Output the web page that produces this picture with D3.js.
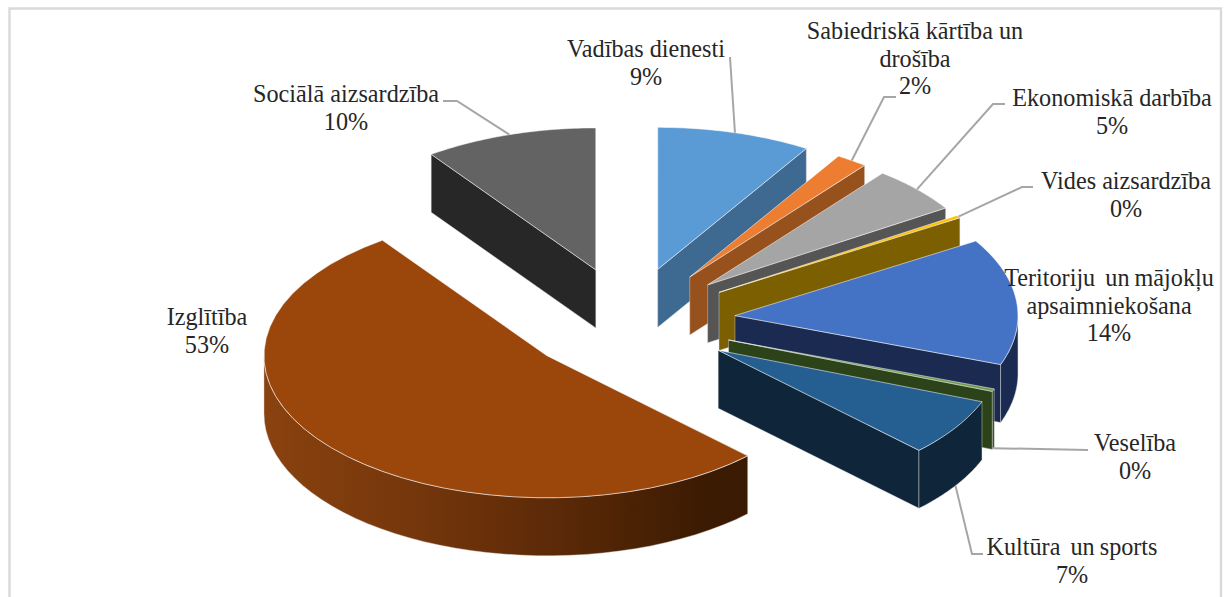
<!DOCTYPE html>
<html>
<head>
<meta charset="utf-8">
<script src="https://cdn.jsdelivr.net/npm/d3@7"></script>
<style>
html,body{margin:0;padding:0;background:#fff;overflow:hidden}
svg{display:block}
text{font-family:"Liberation Serif","Times New Roman",serif;font-size:24.2px;fill:#262626;white-space:pre;text-anchor:middle}
</style>
</head>
<body>
<svg id="chart" width="1226" height="597"></svg>
<script>
// ---- data ----
const categories = ["Vadības dienesti","Sabiedriskā kārtība un\ndrošība","Ekonomiskā darbība","Vides aizsardzība","Teritoriju  un mājokļu\napsaimniekošana","Veselība","Kultūra  un sports","Izglītība","Sociālā aizsardzība"];
const shares = [8.8,1.8,5.3,0.3,14.4,0.3,6.55,52.67,9.88];
const topColors = ["#5b9bd5","#ed7d31","#a5a5a5","#ffc000","#4472c4","#6f9a4a","#255e91","#9b470c","#636363"];
const wallColors = ["#3e6a92","#97511c","#555555","#7c5f00","#1a2a50","#2c4219","#0f253a","url(#wallGrad)","#272727"];
// ---- layout ----
const center = {x:628.5,y:321}, rx = 283, ry = 142, depth = 58, explode = 107;
const labelCenters = [[646,57],[915,39],[1112,106],[1126,189],[1109,286],[1135,451],[1072,555],[207,325],[346,102]];
const leaderBends = [[[730,57]],[[884,97],[896,97]],[[993,104],[1005,104]],[[1022,187],[1033,187]],null,[[1088,450]],[[972,554],[983,554]],null,[[457,101],[443,101]]];

const svg = d3.select("#chart");
const sx = d3.scaleLinear().domain([-1,1]).range([center.x-rx,center.x+rx]);
const sy = d3.scaleLinear().domain([-1,1]).range([center.y-ry,center.y+ry]);
const pct = d3.format(".0%");
const line = d3.line();

const grad = svg.append("defs").append("linearGradient").attr("id","wallGrad")
  .attr("gradientUnits","userSpaceOnUse").attr("x1",264).attr("x2",749).attr("y1",0).attr("y2",0);
[[0,"#8a420f"],[0.35,"#72350b"],[0.7,"#522506"],[0.9,"#3c1b02"],[1,"#3a1a02"]].forEach(([o,c])=>grad.append("stop").attr("offset",o).attr("stop-color",c));

// Frame (no bottom edge is visible in the reference)
svg.append("path").attr("d","M9.5,597V8.5H1221V597").attr("fill","none").attr("stroke","#d9d9d9").attr("stroke-width",2.4);

const pie = d3.pie().sort(null).value(d=>d);
const arcs = pie(shares);

arcs.forEach((a,i)=>{
  const mid = (a.startAngle+a.endAngle)/2;
  const apexOffset = explode/rx;
  const ax = Math.sin(mid)*apexOffset, ay = -Math.cos(mid)*apexOffset;
  a.apex = [sx(ax),sy(ay)];
  a.rim = t => [sx(ax+Math.sin(t)),sy(ay-Math.cos(t))];
  a.mid = mid;
  a.sample = (t0,t1) => d3.range(0,41).map(k=>a.rim(t0+(t1-t0)*k/40));
});

const g = svg.append("g");
const down = p => [p[0],p[1]+depth];
arcs.forEach((a,i)=>{
  const s = g.append("g");
  const wallStyle = sel => sel.attr("fill",wallColors[i]).attr("stroke","#dcdcdc").attr("stroke-opacity",.55).attr("stroke-width",.8).attr("stroke-linejoin","round");
  const t0=a.startAngle,t1=a.endAngle;
  if (t1<Math.PI) {
    const e=a.rim(t1);
    wallStyle(s.append("path").attr("d",line([a.apex,e,down(e),down(a.apex)])+"Z"));
  }
  if (t0>Math.PI) {
    const e=a.rim(t0);
    wallStyle(s.append("path").attr("d",line([a.apex,e,down(e),down(a.apex)])+"Z"));
  }
  const lo=Math.max(t0,Math.PI/2),hi=Math.min(t1,3*Math.PI/2);
  if (hi>lo){
    const pts=a.sample(lo,hi);
    wallStyle(s.append("path").attr("d",line(pts.concat(pts.slice().reverse().map(down)))+"Z"));
  }
  s.append("path").attr("d",line([a.apex].concat(a.sample(t0,t1)))+"Z")
   .attr("fill",topColors[i]).attr("stroke","#ffffff").attr("stroke-opacity",.6).attr("stroke-width",.9).attr("stroke-linejoin","round");
});

arcs.forEach((a,i)=>{
  if(!leaderBends[i]) return;
  let p=a.rim(a.mid);
  if(Math.cos(a.mid)<0) p=down(p);
  g.append("path").attr("d",line([p].concat(leaderBends[i]))).attr("fill","none").attr("stroke","#a6a6a6").attr("stroke-width",2);
});

categories.forEach((c,i)=>{
  const lines=c.split("\n").concat([pct(shares[i]/100)]);
  const t=svg.append("text").attr("transform",`translate(${labelCenters[i][0]},${labelCenters[i][1]})`);
  lines.forEach((l,k)=>t.append("tspan").attr("x",0).attr("y",k*27.6).attr("word-spacing",l.includes("  ")?-1:0).text(l));
});
</script>
</body>
</html>
